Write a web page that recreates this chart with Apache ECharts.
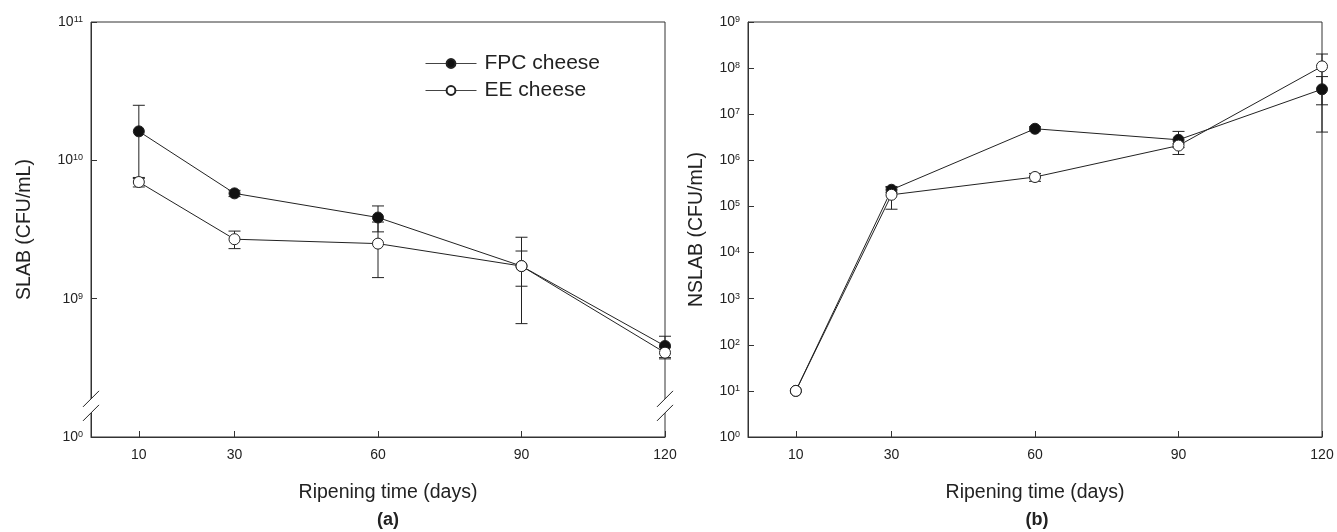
<!DOCTYPE html>
<html>
<head>
<meta charset="utf-8">
<script src="https://cdn.jsdelivr.net/npm/echarts@6/dist/echarts.min.js"></script>
<style>html,body{margin:0;padding:0;background:#fff;}#c{width:1337px;height:532px;}</style>
</head>
<body>
<div id="c"></div>
<script>
// ---- data ----
const days = [10, 30, 60, 90, 120];
const xTicks = [10, 30, 60, 90, 120];
const slabTicks = [0, 9, 10, 11];
const nslabTicks = [0, 1, 2, 3, 4, 5, 6, 7, 8, 9];
const seriesNames = ['FPC cheese', 'EE cheese'];
const slabFPC = [1.62e10, 5.77e9, 3.86e9, 1.72e9, 4.55e8];
const slabFPCsd = [0.88e10, 0.3e9, 0.82e9, 1.06e9, 0.8e8];
const slabEE = [6.97e9, 2.69e9, 2.50e9, 1.72e9, 4.07e8];
const slabEEsd = [0.55e9, 0.39e9, 1.08e9, 0.49e9, 0.4e8];
const nslabFPC = [10, 2.3e5, 4.84e6, 2.79e6, 3.48e7];
const nslabFPCsd = [0, 0.3e5, 0.5e6, 1.45e6, 3.07e7];
const nslabEE = [10, 1.79e5, 4.35e5, 2.09e6, 1.09e8];
const nslabEEsd = [0, 0.92e5, 0.85e5, 0.2e6, 0.93e8];
const slabBreak = [0.225, 8.225];

// ---- helpers ----
const FF = '"Liberation Sans", Arial, sans-serif';
const INK = '#222';
function lg(v) { return Math.log10(v); }
function pts(vals) { return vals.map((v, i) => [days[i], lg(v)]); }
function errs(vals, sds) {
  const out = [];
  vals.forEach((v, i) => { if (sds[i] > 0) out.push([days[i], lg(v - sds[i]), lg(v + sds[i])]); });
  return out;
}
function errRender(params, api) {
  const x = api.value(0);
  const a = api.coord([x, api.value(1)]);
  const b = api.coord([x, api.value(2)]);
  const w = 6;
  const st = { stroke: INK, lineWidth: 1 };
  return { type: 'group', children: [
    { type: 'line', shape: { x1: a[0], y1: a[1], x2: b[0], y2: b[1] }, style: st },
    { type: 'line', shape: { x1: a[0] - w, y1: a[1], x2: a[0] + w, y2: a[1] }, style: st },
    { type: 'line', shape: { x1: b[0] - w, y1: b[1], x2: b[0] + w, y2: b[1] }, style: st }
  ]};
}
function slashRender(params, api) {
  const p = api.coord([api.value(0), api.value(1)]);
  const cx = p[0], cy = p[1], h = 8, d = 7;
  return { type: 'group', children: [
    { type: 'polygon', shape: { points: [[cx - h, cy - d + h], [cx + h, cy - d - h], [cx + h, cy + d - h], [cx - h, cy + d + h]] }, style: { fill: '#fff' } },
    { type: 'line', shape: { x1: cx - h, y1: cy - d + h, x2: cx + h, y2: cy - d - h }, style: { stroke: INK, lineWidth: 1 } },
    { type: 'line', shape: { x1: cx - h, y1: cy + d + h, x2: cx + h, y2: cy + d - h }, style: { stroke: INK, lineWidth: 1 } }
  ]};
}
const supRich = {
  b: { fontSize: 14, fontFamily: FF, color: INK },
  s: { fontSize: 9, fontFamily: FF, color: INK, verticalAlign: 'top', padding: [0, 0, 0, 0] }
};
function supLabel(v) { return '{b|10}{s|' + Math.round(v) + '}'; }

function xAxisDef(grid, shift) {
  return {
    type: 'value', gridIndex: grid, min: 0, max: 120,
    name: 'Ripening time (days)', nameLocation: 'middle', nameGap: 46,
    nameTextStyle: { fontFamily: FF, fontSize: 19.5, color: INK, padding: [0, 0, 0, shift] },
    axisLine: { lineStyle: { color: '#333' } },
    axisTick: { inside: true, length: 6, customValues: xTicks, lineStyle: { color: '#333' } },
    axisLabel: { customValues: xTicks, fontFamily: FF, fontSize: 14, color: INK, margin: 11 },
    splitLine: { show: false }
  };
}
function yAxisDef(grid, min, max, ticks, name, gap) {
  return {
    type: 'value', gridIndex: grid, min: min, max: max, interval: 1,
    name: name, nameLocation: 'middle', nameGap: gap,
    nameTextStyle: { fontFamily: FF, fontSize: 19.5, color: INK },
    axisLine: { show: true, lineStyle: { color: '#333' } },
    axisTick: { inside: true, length: 6, customValues: ticks, lineStyle: { color: '#333' } },
    axisLabel: { customValues: ticks, formatter: supLabel, rich: supRich, margin: 8 },
    splitLine: { show: false }
  };
}
function lineSeries(name, xi, data, filled) {
  return {
    type: 'line', name: name, xAxisIndex: xi, yAxisIndex: xi, data: data,
    symbol: 'circle', symbolSize: 11, z: filled ? 3 : 4,
    lineStyle: { color: INK, width: 1 },
    itemStyle: { color: filled ? '#111' : '#fff', borderColor: INK, borderWidth: 1 },
    emphasis: { disabled: true }, silent: true
  };
}
function errSeries(xi, data) {
  return { type: 'custom', xAxisIndex: xi, yAxisIndex: xi, data: data, renderItem: errRender, z: 2, silent: true };
}

const yLeft = yAxisDef(0, 0, 11, slabTicks, 'SLAB (CFU/mL)', 56);
yLeft.breaks = [{ start: slabBreak[0], end: slabBreak[1], gap: 0 }];
yLeft.breakArea = { show: false };
const yRight = yAxisDef(1, 0, 9, nslabTicks, 'NSLAB (CFU/mL)', 41);

const option = {
  animation: false,
  backgroundColor: '#fff',
  grid: [
    { left: 91, right: 672, top: 22, bottom: 95, show: true, borderColor: '#333', borderWidth: 1 },
    { left: 748, right: 15, top: 22, bottom: 95, show: true, borderColor: '#333', borderWidth: 1 }
  ],
  title: [
    { text: '(a)', left: 383, top: 506, textAlign: 'center', textStyle: { fontFamily: FF, fontSize: 18, fontWeight: 'bold', color: INK } },
    { text: '(b)', left: 1032, top: 506, textAlign: 'center', textStyle: { fontFamily: FF, fontSize: 18, fontWeight: 'bold', color: INK } }
  ],
  legend: {
    data: seriesNames, orient: 'vertical', left: 420, top: 48, itemWidth: 51, itemHeight: 11, itemGap: 6,
    selectedMode: false,
    lineStyle: { width: 1, color: '#444' },
    textStyle: { fontFamily: FF, fontSize: 21, color: INK, padding: [0, 0, 0, 3] }
  },
  xAxis: [xAxisDef(0, 20), xAxisDef(1, 0)],
  yAxis: [yLeft, yRight],
  series: [
    errSeries(0, errs(slabFPC, slabFPCsd)),
    errSeries(0, errs(slabEE, slabEEsd)),
    lineSeries(seriesNames[0], 0, pts(slabFPC), true),
    lineSeries(seriesNames[1], 0, pts(slabEE), false),
    { type: 'custom', xAxisIndex: 0, yAxisIndex: 0, data: [[0, slabBreak[1]], [120, slabBreak[1]]], renderItem: slashRender, z: 6, silent: true, clip: false },
    errSeries(1, errs(nslabFPC, nslabFPCsd)),
    errSeries(1, errs(nslabEE, nslabEEsd)),
    lineSeries(seriesNames[0], 1, pts(nslabFPC), true),
    lineSeries(seriesNames[1], 1, pts(nslabEE), false)
  ]
};
const chart = echarts.init(document.getElementById('c'), null, { renderer: 'canvas' });
chart.setOption(option);
</script>
</body>
</html>
